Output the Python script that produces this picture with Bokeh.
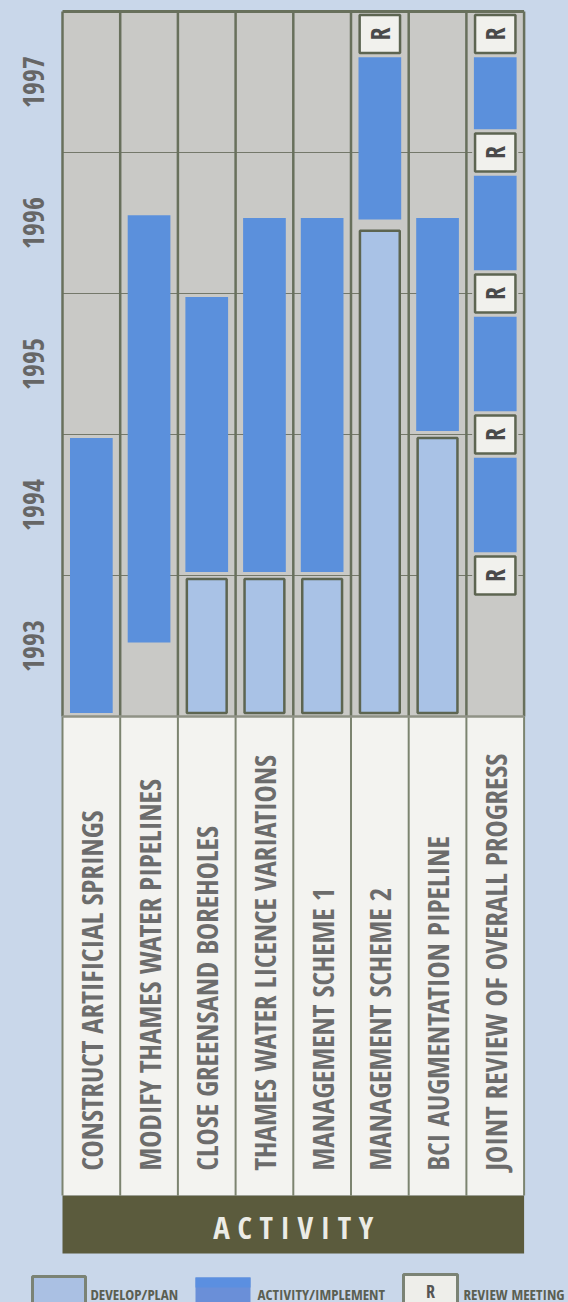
import math
from bokeh.plotting import figure
from bokeh.embed import file_html
from bokeh.resources import INLINE
from bokeh.core.properties import value
from bokeh.models import Range1d

# ---------------- data ----------------
activities = ["CONSTRUCT ARTIFICIAL SPRINGS", "MODIFY THAMES WATER PIPELINES",
              "CLOSE GREENSAND BOREHOLES", "THAMES WATER LICENCE VARIATIONS",
              "MANAGEMENT SCHEME 1", "MANAGEMENT SCHEME 2",
              "BCI AUGMENTATION PIPELINE", "JOINT REVIEW OF OVERALL PROGRESS"]
years = [1993, 1994, 1995, 1996, 1997]
year_labels = ["1993", "1994", "1995", "1996", "1997"]

plan_activity = [2, 3, 4, 5, 6]
plan_start = [1993.0, 1993.0, 1993.0, 1993.0, 1993.0]
plan_end = [1994.0, 1994.0, 1994.0, 1996.47, 1995.0]

impl_activity = [0, 1, 2, 3, 4, 5, 6, 7]
impl_start = [1993.0, 1993.5, 1994.0, 1994.0, 1994.0, 1996.5, 1995.0, 1994.0]
impl_end = [1995.0, 1996.58, 1996.0, 1996.56, 1996.56, 1997.72, 1996.56, 1997.72]

review_activity = [5, 7, 7, 7, 7, 7]
review_date = [1997.84, 1994.0, 1995.0, 1996.0, 1997.0, 1997.84]

legend_labels = ["DEVELOP/PLAN", "ACTIVITY/IMPLEMENT", "REVIEW MEETING"]
header = "A C T I V I T Y"

# ---------------- style ----------------
BG = "#c9d7ea"
GRAY = "#c9c9c6"
BLUE = "#5b90dc"
LIGHT = "#a9c2e6"
SEP = "#68705c"
OLIVE = "#5b5b3d"
TXT = "#6c6c6c"
FONT = value("Open Sans Condensed")

W, H = 568, 1302
# layout helpers: page pixel position -> data coordinates
X0, CW = 62.0, 57.7     # left edge of first column, column width (px)
Y0, YH = 716.0, 141.0   # pixel row of 1993, pixels per year


def X(px):
    return (px - X0) / CW


def Y(py):
    return 1993 - (py - Y0) / YH


n = len(activities)
p = figure(width=W, height=H, output_backend="svg", toolbar_location=None,
           x_range=Range1d(X(0), X(W)), y_range=Range1d(Y(H), Y(0)),
           x_axis_location=None, y_axis_location=None, min_border=0)
p.outline_line_color = None
p.background_fill_color = BG
p.border_fill_color = BG
p.grid.visible = False

top_year = years[-1] + 1
# chart background
p.quad(left=[0], right=[n], bottom=[years[0]], top=[top_year], fill_color=GRAY, line_color=None)
# year boundary lines
p.segment(x0=[0] * (len(years) - 1), x1=[n] * (len(years) - 1), y0=years[1:], y1=years[1:],
          line_color="#74786a", line_width=1.2)

gap = 0.025
# develop / plan boxes
pw = 0.345
p.quad(left=[i + 0.5 - pw for i in plan_activity], right=[i + 0.5 + pw for i in plan_activity],
       bottom=[s + gap for s in plan_start], top=[e - gap for e in plan_end],
       fill_color=LIGHT, line_color="#5d6551", line_width=2.5)
# activity / implement bars
bw = 0.37
p.quad(left=[i + 0.5 - bw for i in impl_activity], right=[i + 0.5 + bw for i in impl_activity],
       bottom=[s + gap for s in impl_start], top=[e - gap for e in impl_end],
       fill_color=BLUE, line_color=None)
# review meetings
rh = 0.135
p.quad(left=[i + 0.5 - 0.4 for i in review_activity], right=[i + 0.5 + 0.4 for i in review_activity],
       bottom=[d - rh - 0.03 for d in review_date], top=[d + rh + 0.03 for d in review_date],
       fill_color=GRAY, line_color=None)
p.quad(left=[i + 0.5 - 0.35 for i in review_activity], right=[i + 0.5 + 0.35 for i in review_activity],
       bottom=[d - rh for d in review_date], top=[d + rh for d in review_date],
       fill_color="#f1f1ed", line_color="#5d6551", line_width=2.5)
p.text(x=[i + 0.5 for i in review_activity], y=review_date, text=["R"] * len(review_date),
       angle=math.pi / 2, text_align="center", text_baseline="middle",
       text_font=FONT, text_font_style="bold", text_font_size="26px", text_color="#4a4a4a")

# column separators in chart area
p.segment(x0=list(range(n + 1)), x1=list(range(n + 1)), y0=[years[0]] * (n + 1),
          y1=[top_year] * (n + 1), line_color=SEP, line_width=2.5)
p.segment(x0=[0], x1=[n], y0=[top_year], y1=[top_year], line_color=SEP, line_width=3)

# label area
lab_bottom = Y(1195)
p.quad(left=[0], right=[n], bottom=[lab_bottom], top=[years[0]], fill_color="#f3f3f0", line_color=None)
p.segment(x0=list(range(n + 1)), x1=list(range(n + 1)), y0=[lab_bottom] * (n + 1),
          y1=[years[0]] * (n + 1), line_color="#7c8470", line_width=2)
p.segment(x0=[0], x1=[n], y0=[years[0]], y1=[years[0]], line_color="#8f9286", line_width=2.5)
p.text(x=[i + 0.5 for i in range(n)], y=[Y(1170)] * n, text=activities, angle=math.pi / 2,
       text_align="left", text_baseline="middle", text_font=FONT, text_font_style="bold",
       text_font_size="29px", text_color=TXT)

# ACTIVITY header band
p.quad(left=[0], right=[n], bottom=[Y(1253)], top=[lab_bottom], fill_color=OLIVE, line_color=None)
p.text(x=[n / 2], y=[Y(1226)], text=[header], text_align="center", text_baseline="middle",
       text_font=FONT, text_font_style="bold", text_font_size="31px", text_color="#ecece6")

# year labels
p.text(x=[X(33)] * len(years), y=[y + 0.5 for y in years], text=year_labels, angle=math.pi / 2,
       text_align="center", text_baseline="middle", text_font=FONT, text_font_style="bold",
       text_font_size="28px", text_color="#666666")

# legend
LEGTXT = "#5b5f52"
p.quad(left=[X(32)], right=[X(85)], bottom=[Y(1306)], top=[Y(1276)],
       fill_color="#aac0e3", line_color="#7b8375", line_width=3)
p.quad(left=[X(195)], right=[X(250)], bottom=[Y(1306)], top=[Y(1277)],
       fill_color="#6a8fd8", line_color=None)
p.quad(left=[X(195)], right=[X(250)], bottom=[Y(1287)], top=[Y(1277)],
       fill_color="#5b8fe0", line_color=None)
p.quad(left=[X(403)], right=[X(457)], bottom=[Y(1306)], top=[Y(1274)],
       fill_color="#eeeeea", line_color="#7b8375", line_width=3)
p.text(x=[X(430)], y=[Y(1290)], text=["R"], text_align="center", text_baseline="middle",
       text_font=FONT, text_font_size="18px", text_color="#555555")
p.text(x=[X(90), X(257), X(463)], y=[Y(1293)] * 3, text=legend_labels,
       text_align="left", text_baseline="middle", text_font=FONT, text_font_style="bold",
       text_font_size="15px", text_color=LEGTXT)

html = file_html(p, INLINE)
html = html.replace("</head>", "<style>html, body { background-color: %s; }</style></head>" % BG, 1)
open("out.html", "w").write(html)
